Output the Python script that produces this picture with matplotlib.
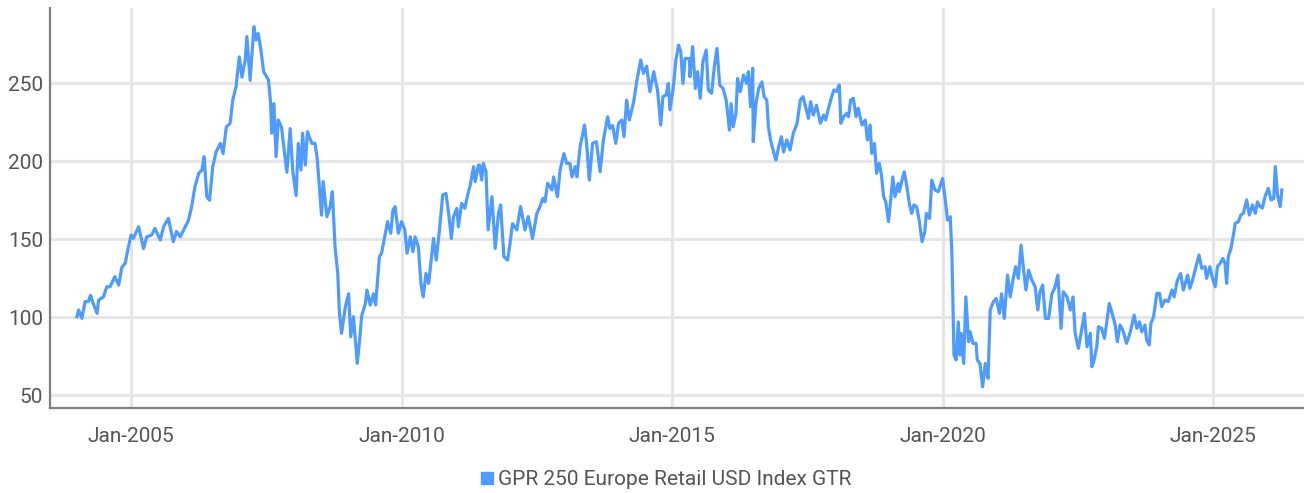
import matplotlib.pyplot as plt
from matplotlib.lines import Line2D

# GPR 250 Europe Retail USD Index GTR (fecha en años decimales)
years = [
    2004.00, 2004.03, 2004.09, 2004.15, 2004.21, 2004.25, 2004.30, 2004.37, 2004.40, 2004.49,
    2004.55, 2004.61, 2004.70, 2004.77, 2004.83, 2004.89, 2004.95, 2005.00, 2005.04, 2005.14,
    2005.23, 2005.29, 2005.38, 2005.44, 2005.54, 2005.60, 2005.69, 2005.78, 2005.84, 2005.91,
    2006.00, 2006.06, 2006.12, 2006.18, 2006.25, 2006.31, 2006.35, 2006.40, 2006.45, 2006.51,
    2006.57, 2006.65, 2006.70, 2006.76, 2006.83, 2006.88, 2006.94, 2007.00, 2007.05, 2007.11,
    2007.14, 2007.20, 2007.27, 2007.31, 2007.35, 2007.40,
    2007.45, 2007.54, 2007.58, 2007.60, 2007.64, 2007.68, 2007.72, 2007.78, 2007.83, 2007.88,
    2007.94, 2007.99, 2008.05, 2008.09, 2008.14, 2008.17, 2008.22, 2008.26, 2008.34, 2008.40,
    2008.44, 2008.52, 2008.55, 2008.62, 2008.68, 2008.72, 2008.77, 2008.82, 2008.85, 2008.89,
    2008.96, 2009.02, 2009.06, 2009.11, 2009.14, 2009.18, 2009.23, 2009.26, 2009.33, 2009.36,
    2009.42, 2009.48, 2009.52, 2009.59, 2009.63, 2009.70, 2009.74, 2009.80, 2009.84, 2009.88,
    2009.94, 2010.00, 2010.06, 2010.10, 2010.16, 2010.21, 2010.25, 2010.31, 2010.36, 2010.40,
    2010.45, 2010.50, 2010.56, 2010.59, 2010.64, 2010.70, 2010.76, 2010.82, 2010.87, 2010.92,
    2010.96, 2011.02, 2011.05, 2011.11, 2011.17, 2011.22, 2011.27, 2011.33, 2011.36, 2011.42,
    2011.44, 2011.48, 2011.51, 2011.56, 2011.60, 2011.67, 2011.73, 2011.79, 2011.83, 2011.89,
    2011.96, 2012.00, 2012.05, 2012.13, 2012.20, 2012.28, 2012.34, 2012.42, 2012.50, 2012.56,
    2012.61, 2012.65, 2012.70, 2012.78, 2012.81, 2012.88, 2012.93, 2013.00, 2013.05, 2013.11,
    2013.15, 2013.21, 2013.24, 2013.30, 2013.38, 2013.42, 2013.47, 2013.53, 2013.60, 2013.67,
    2013.73, 2013.81, 2013.85, 2013.90, 2013.96, 2014.01, 2014.07, 2014.11, 2014.16, 2014.21,
    2014.29, 2014.35, 2014.42, 2014.47, 2014.53, 2014.59, 2014.66, 2014.73, 2014.79, 2014.83,
    2014.89, 2014.93, 2014.96, 2015.02, 2015.07, 2015.12, 2015.16, 2015.20, 2015.24, 2015.32,
    2015.33, 2015.38, 2015.43, 2015.47, 2015.52, 2015.57, 2015.63, 2015.67, 2015.73, 2015.78,
    2015.83, 2015.88, 2015.94, 2016.00, 2016.06, 2016.09, 2016.13, 2016.18, 2016.21, 2016.26,
    2016.32, 2016.38, 2016.41, 2016.45, 2016.49, 2016.50, 2016.55, 2016.60, 2016.66, 2016.70,
    2016.75, 2016.78, 2016.82, 2016.89, 2016.92, 2016.97, 2017.02, 2017.06, 2017.12, 2017.18,
    2017.24, 2017.31, 2017.37, 2017.42, 2017.46, 2017.52, 2017.56, 2017.61, 2017.67, 2017.74,
    2017.80, 2017.84, 2017.89, 2017.95, 2017.99, 2018.04, 2018.09, 2018.12, 2018.17, 2018.23,
    2018.26, 2018.30, 2018.35, 2018.40, 2018.44, 2018.51, 2018.57, 2018.61, 2018.66, 2018.69,
    2018.74, 2018.78, 2018.83, 2018.87, 2018.91, 2018.95, 2019.00, 2019.04, 2019.08, 2019.12,
    2019.18,
    2019.20, 2019.25, 2019.29, 2019.34, 2019.39, 2019.43, 2019.47, 2019.52, 2019.57, 2019.62,
    2019.67, 2019.70, 2019.76, 2019.80, 2019.86, 2019.92, 2020.00, 2020.05, 2020.09, 2020.14,
    2020.17, 2020.19, 2020.21, 2020.25, 2020.29, 2020.32, 2020.34, 2020.39, 2020.43, 2020.48,
    2020.51, 2020.56, 2020.62, 2020.64, 2020.69, 2020.74, 2020.79, 2020.84, 2020.88, 2020.94,
    2020.99, 2021.05, 2021.09, 2021.14, 2021.20, 2021.25, 2021.30, 2021.35, 2021.40, 2021.45,
    2021.49, 2021.54, 2021.59, 2021.65, 2021.71, 2021.76, 2021.80, 2021.85, 2021.90, 2021.96,
    2022.02, 2022.07, 2022.13, 2022.19, 2022.23, 2022.30, 2022.36, 2022.41, 2022.45, 2022.51,
    2022.56, 2022.62, 2022.67, 2022.73, 2022.76, 2022.80, 2022.85, 2022.88, 2022.94, 2022.99,
    2023.04, 2023.08,
    2023.15, 2023.19, 2023.23, 2023.28, 2023.33, 2023.40, 2023.47, 2023.54, 2023.59, 2023.64,
    2023.68, 2023.74, 2023.77, 2023.82, 2023.85, 2023.90, 2023.96, 2024.01, 2024.05, 2024.11,
    2024.17, 2024.24, 2024.28, 2024.34, 2024.40, 2024.45, 2024.53, 2024.57, 2024.62, 2024.70,
    2024.74, 2024.79, 2024.85, 2024.88, 2024.94, 2024.98, 2025.04, 2025.08, 2025.13, 2025.18,
    2025.22, 2025.25, 2025.28, 2025.33, 2025.38, 2025.41, 2025.47, 2025.51, 2025.56, 2025.62,
    2025.67, 2025.73, 2025.78, 2025.82, 2025.87, 2025.91, 2025.96, 2026.02, 2026.07, 2026.12,
    2026.15, 2026.19, 2026.24, 2026.27,
]
values = [
    100.3, 104.6, 99.2, 110.0, 110.0, 114.0, 108.8, 102.4, 111.0, 113.0,
    119.5, 119.5, 126.0, 120.6, 132.0, 134.5, 145.0, 152.7, 150.5, 158.0,
    144.0, 151.6, 152.7, 157.0, 149.5, 158.0, 163.4, 148.4, 155.0, 151.6,
    158.0, 162.0, 171.0, 183.7, 192.3, 194.4, 203.0, 177.3, 175.0, 196.6,
    206.0, 211.5, 205.0, 222.0, 224.4, 239.3, 248.0, 267.0, 254.0, 265.0,
    280.0, 252.0, 286.4, 277.8, 282.0, 271.4,
    257.5, 252.2, 237.0, 218.0, 237.0, 203.0, 226.5, 222.0, 207.0, 193.0,
    221.0, 193.0, 178.0, 211.5, 194.4, 218.0, 197.6, 219.0, 211.5, 211.5,
    202.0, 165.5, 187.0, 164.5, 171.0, 180.5, 145.0, 128.0, 103.5, 89.6,
    106.7, 115.0, 87.4, 100.3, 87.4, 70.3, 87.4, 100.3, 108.8, 117.4,
    107.8, 115.0, 107.8, 138.8, 141.0, 153.8, 161.3, 153.8, 168.7, 170.9,
    153.8, 161.3, 156.0, 141.0, 151.6, 142.0, 151.6, 145.0, 120.6, 113.0,
    128.0, 121.7, 141.0, 150.5, 136.6, 156.0, 178.4, 179.4, 166.6, 150.5,
    164.5, 169.8, 158.0, 173.0, 169.8, 178.4, 184.8, 196.6, 187.0, 197.6,
    197.6, 188.0, 198.7, 193.3, 156.0, 177.3, 144.0, 166.6, 172.0, 138.8,
    136.6, 146.3, 160.0, 156.0, 171.0, 156.0, 164.5, 150.5, 166.6, 171.0,
    176.2, 174.0, 185.9, 181.6, 190.0, 177.3, 194.4, 205.0, 198.7, 198.7,
    190.0, 196.6, 190.0, 209.4, 223.3, 211.5, 188.0, 211.5, 212.6, 193.3,
    213.7, 228.6, 221.0, 223.0, 211.5, 224.4, 226.5, 215.8, 239.3, 226.5,
    238.3, 252.0, 265.0, 256.5, 261.0, 244.7, 257.5, 245.8, 223.3, 241.5,
    242.5, 250.0, 233.0, 246.8, 265.0, 274.6, 270.4, 250.0, 266.0, 266.0,
    254.3, 273.6, 246.8, 257.5, 240.4, 264.0, 271.4, 245.8, 243.6, 260.7,
    272.5, 249.0, 246.8, 239.3, 220.0, 237.0, 222.2, 230.8, 253.2, 244.7,
    255.4, 250.0, 257.5, 235.0, 259.7, 212.6, 237.0, 246.8, 251.0, 241.5,
    239.3, 222.2, 213.7, 204.0, 200.8, 209.4, 215.8, 206.0, 213.7, 207.3,
    218.0, 224.4, 239.3, 241.5, 236.0, 227.6, 238.3, 229.7, 236.0, 224.4,
    229.7, 226.5, 234.0, 241.5, 245.8, 244.7, 249.0, 224.4, 228.6, 230.8,
    228.6, 239.3, 240.4, 228.6, 234.0, 223.3, 226.5, 213.7, 223.3, 205.1,
    211.5, 192.3, 198.7, 191.2, 177.3, 174.0, 161.3, 175.0, 190.0, 177.3,
    185.8,
    180.5, 188.0, 193.3, 183.7, 172.0, 166.6, 172.0, 170.9, 161.3, 148.4,
    154.8, 166.6, 163.4, 188.0, 181.6, 180.5, 189.0, 175.0, 162.3, 164.5,
    143.0, 111.0, 75.7, 72.5, 97.0, 75.7, 89.6, 70.3, 113.0, 84.2,
    90.6, 83.2, 83.2, 72.5, 70.3, 55.3, 70.3, 60.7, 104.6, 110.0,
    112.0, 102.4, 115.0, 99.2, 127.0, 113.0, 123.8, 132.4, 124.9, 146.3,
    132.4, 117.4, 130.2, 123.8, 119.5, 104.6, 116.3, 120.6, 99.2, 99.2,
    115.0, 118.5, 127.0, 92.8, 116.3, 113.0, 104.6, 113.0, 89.6, 80.0,
    89.6, 102.4, 81.0, 89.6, 68.2, 72.5, 81.0, 93.9, 92.8, 86.4,
    98.0, 108.8,
    100.3, 95.0, 84.2, 95.0, 91.7, 83.2, 90.6, 101.3, 92.8, 97.0,
    90.6, 95.0, 85.3, 82.1, 96.0, 100.3, 115.3, 115.3, 106.7, 111.0,
    110.0, 117.4, 113.0, 123.8, 128.0, 117.4, 127.0, 118.5, 123.8, 134.5,
    139.9, 131.3, 132.4, 124.9, 132.4, 126.0, 119.5, 132.4, 134.5, 137.7,
    134.5, 121.7, 138.8, 144.1, 153.8, 160.2, 161.3, 165.5, 166.6, 175.2,
    165.5, 172.0, 166.6, 174.0, 170.9, 170.0, 177.3, 182.6, 175.2, 176.0,
    196.6, 178.4, 170.9, 181.6,
]

tick_years = [2005, 2010, 2015, 2020, 2025]
tick_labels = ['Jan-2005', 'Jan-2010', 'Jan-2015', 'Jan-2020', 'Jan-2025']
y_ticks = [50, 100, 150, 200, 250]
serie = 'GPR 250 Europe Retail USD Index GTR'

line_color = '#4F9BFF'
text_color = '#555555'

plt.rcParams['font.family'] = ['Roboto', 'DejaVu Sans']

fig = plt.figure(figsize=(13.04, 4.93), dpi=100)
ax = fig.add_axes([0.0383, 0.1724, 0.9617, 0.8114])

ax.plot(years, values, color=line_color, linewidth=2.3, solid_joinstyle='round')

ax.set_xlim(2003.5, 2026.68)
ax.set_ylim(41.7, 298.4)
ax.set_xticks(tick_years)
ax.set_xticklabels(tick_labels)
ax.set_yticks(y_ticks)

ax.grid(True, color='#e6e6e6', linewidth=2.2)
ax.set_axisbelow(True)
for s in ['top', 'right']:
    ax.spines[s].set_visible(False)
for s in ['left', 'bottom']:
    ax.spines[s].set_color('#808080')
    ax.spines[s].set_linewidth(1.6)

ax.tick_params(axis='both', length=0, labelsize=15, labelcolor=text_color)
ax.tick_params(axis='x', pad=14)
ax.tick_params(axis='y', pad=5)

handle = Line2D([], [], color=line_color, marker='s', linestyle='none', markersize=8)
leg = fig.legend([handle], [serie], loc='lower center', bbox_to_anchor=(0.51, -0.03),
                 frameon=False, handletextpad=0.1, handlelength=0.8,
                 prop={'size': 15})
for t in leg.get_texts():
    t.set_color(text_color)

fig.savefig('out.png', dpi=100)
